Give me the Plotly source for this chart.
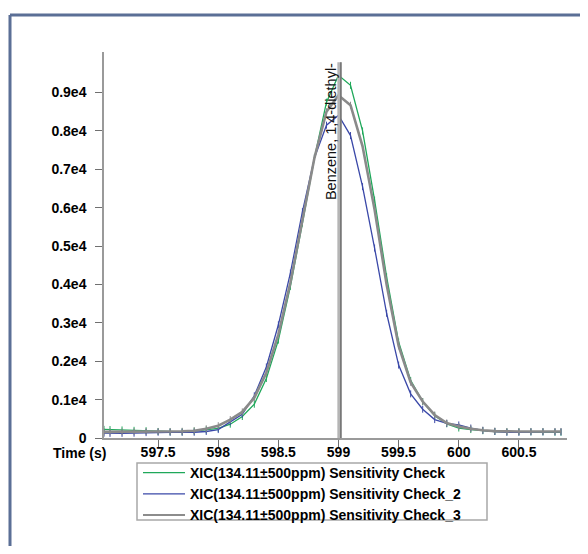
import plotly.graph_objects as go

times = [597.05, 597.1, 597.2, 597.3, 597.4, 597.5, 597.6, 597.7, 597.8, 597.9,
         598.0, 598.1, 598.2, 598.3, 598.4, 598.5, 598.6, 598.7, 598.8, 598.9,
         599.0, 599.1, 599.2, 599.3, 599.4, 599.5, 599.6, 599.7, 599.8, 599.9,
         600.0, 600.1, 600.2, 600.3, 600.4, 600.5, 600.6, 600.7, 600.8, 600.85]

green = [225, 220, 210, 200, 190, 170, 160, 160, 180, 210,
         250, 360, 560, 880, 1550, 2550, 3950, 5600, 7300, 8750,
         9450, 9190, 8000, 6200, 4200, 2500, 1500, 950, 580, 370,
         260, 220, 190, 170, 160, 160, 160, 160, 150, 150]

blue = [125, 120, 120, 125, 140, 150, 150, 150, 150, 170,
        220, 420, 620, 1100, 1850, 2950, 4300, 5900, 7300, 8150,
        8410, 7880, 6550, 4950, 3250, 1900, 1150, 750, 480, 380,
        340, 260, 200, 170, 150, 150, 160, 160, 160, 160]

gray = [160, 160, 160, 165, 170, 170, 170, 175, 190, 240,
        320, 480, 680, 1050, 1700, 2700, 4050, 5650, 7300, 8500,
        8930, 8670, 7600, 5950, 4000, 2400, 1450, 950, 600, 390,
        300, 240, 200, 180, 170, 170, 170, 170, 170, 170]

series_names = ["XIC(134.11±500ppm) Sensitivity Check",
                "XIC(134.11±500ppm) Sensitivity Check_2",
                "XIC(134.11±500ppm) Sensitivity Check_3"]

ytick_vals = [0, 1000, 2000, 3000, 4000, 5000, 6000, 7000, 8000, 9000]
ytick_text = ["0", "0.1e4", "0.2e4", "0.3e4", "0.4e4", "0.5e4", "0.6e4", "0.7e4", "0.8e4", "0.9e4"]
xtick_vals = [597.5, 598, 598.5, 599, 599.5, 600, 600.5]
xtick_text = ["597.5", "598", "598.5", "599", "599.5", "600", "600.5"]

peak_label = "Benzene, 1,4-diethyl-"
peak_rt = [599.007, 599.02]
peak_top = 9790

FONT = "Liberation Sans, Arial, sans-serif"
W, H = 572, 538
L, R, T, B = 96, 13, 44, 108
PW, PH = W - L - R, H - T - B


def px(xp):
    return (xp - L) / PW


def py(yp):
    return (H - B - yp) / PH


fig = go.Figure()
styles = [("#1fa85a", 1.3), ("#3a48a8", 1.3), ("#8a8a8a", 2.6)]
legend_cols = ["#1fa85a", "#3a48a8", "#666666"]
for ys, name, (col, w) in zip([green, blue, gray], series_names, styles):
    fig.add_trace(go.Scatter(
        x=times, y=ys, name=name, mode="lines+markers", showlegend=False,
        line=dict(color=col, width=w),
        marker=dict(symbol="line-ns-open", size=5, color=col, line=dict(color=col, width=1)),
    ))
for name, col in zip(series_names, legend_cols):
    fig.add_trace(go.Scatter(x=[None], y=[None], name="<b>" + name + "</b>", mode="lines",
                             line=dict(color=col, width=1.3), showlegend=True))

# peak marker lines
fig.add_shape(type="line", xref="x", yref="y", x0=peak_rt[0], x1=peak_rt[0], y0=0, y1=peak_top,
              line=dict(color="#b5b5b5", width=4))
fig.add_shape(type="line", xref="x", yref="y", x0=peak_rt[1], x1=peak_rt[1], y0=0, y1=peak_top,
              line=dict(color="#6e6e6e", width=1.5))

fig.add_annotation(x=598.944, y=7990, xref="x", yref="y", text=peak_label, textangle=-90,
                   showarrow=False, font=dict(family=FONT, size=14.5, color="#111"),
                   xanchor="center", yanchor="middle")

fig.add_annotation(x=px(71), y=py(445), xref="paper", yref="paper", text="<b>Time (s)</b>",
                   showarrow=False, font=dict(family=FONT, size=14, color="#000"),
                   xanchor="center", yanchor="middle")

# outer frame (top and left edges; the rest lies outside the view)
fig.add_shape(type="line", xref="paper", yref="paper", x0=px(2), x1=px(W), y0=py(7), y1=py(7),
              line=dict(color="#5b6f96", width=3), layer="below")
fig.add_shape(type="line", xref="paper", yref="paper", x0=px(2), x1=px(2), y0=py(7), y1=py(H),
              line=dict(color="#5b6f96", width=3), layer="below")
# legend frame
fig.add_shape(type="rect", xref="paper", yref="paper", x0=px(129), x1=px(479), y0=py(512), y1=py(455),
              line=dict(color="#a8a8a8", width=1.5), layer="below")

fig.update_layout(
    width=W, height=H,
    margin=dict(l=L, r=R, t=T, b=B, autoexpand=False),
    paper_bgcolor="white", plot_bgcolor="white",
    font=dict(family=FONT, size=14, color="#000"),
    showlegend=True,
    legend=dict(x=px(130), y=py(449), xanchor="left", yanchor="top",
                borderwidth=0, bgcolor="rgba(0,0,0,0)",
                font=dict(family=FONT, size=14, color="#000"),
                itemwidth=42, tracegroupgap=0),
    xaxis=dict(range=[597.05, 600.9], tickvals=xtick_vals, ticktext=["<b>%s</b>" % t for t in xtick_text],
               showgrid=False, zeroline=False, showline=True, linecolor="#9a9a9a", linewidth=1.5,
               ticks="outside", ticklen=8, tickcolor="#707070", tickwidth=1, ticklabelstandoff=-8,
               tickfont=dict(size=14, family=FONT, color="#000")),
    yaxis=dict(range=[0, 10057], tickvals=ytick_vals, ticktext=["<b>%s</b>" % t for t in ytick_text],
               showgrid=False, zeroline=False, showline=True, linecolor="#9a9a9a", linewidth=1.5,
               ticks="outside", ticklen=7, tickcolor="#707070", tickwidth=1, ticklabelstandoff=6,
               tickfont=dict(size=14, family=FONT, color="#000")),
)

fig.write_html("out.html")
